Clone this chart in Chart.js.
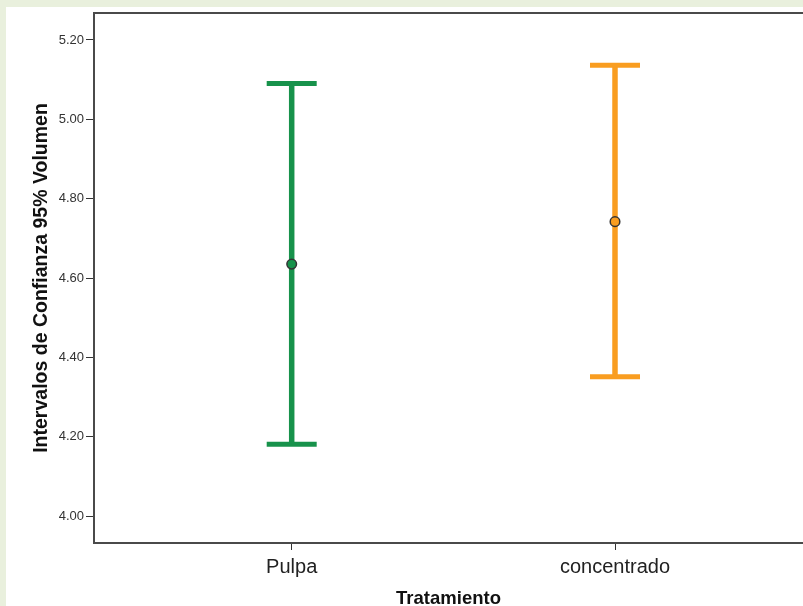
<!DOCTYPE html>
<html>
<head>
<meta charset="utf-8">
<script src="https://cdn.jsdelivr.net/npm/chart.js@4"></script>
<style>
  html, body { margin: 0; padding: 0; background: #e9f0dd; }
  #wrap { position: relative; width: 803px; height: 606px; }
  canvas { display: block; }
</style>
</head>
<body>
<div id="wrap"><canvas id="chart" width="803" height="606"></canvas></div>
<script>
// Treatment groups and their 95% confidence intervals for Volumen
const categories = ['Pulpa', 'concentrado'];
const meanValues = [4.635, 4.742];
const lowerValues = [4.181, 4.351];
const upperValues = [5.090, 5.136];
const groupColors = ['#17924b', '#f99d20'];
const yTickValues = [4.00, 4.20, 4.40, 4.60, 4.80, 5.00, 5.20];

const FONT = "'Liberation Sans', Arial, sans-serif";

const datasets = [];
categories.forEach((name, i) => {
  const x = i + 1;
  // vertical whisker of the interval
  datasets.push({
    type: 'scatter',
    label: name + ' IC',
    data: [{ x: x, y: lowerValues[i] }, { x: x, y: upperValues[i] }],
    showLine: true,
    borderColor: groupColors[i],
    borderWidth: 5.5,
    borderCapStyle: 'butt',
    pointRadius: 0,
    order: 2
  });
  // horizontal caps at both ends
  datasets.push({
    type: 'scatter',
    label: name + ' límites',
    data: [{ x: x, y: lowerValues[i] }, { x: x, y: upperValues[i] }],
    pointStyle: 'line',
    pointRadius: 25,
    pointBorderWidth: 5,
    pointBorderColor: groupColors[i],
    borderColor: groupColors[i],
    order: 1
  });
  // mean marker
  datasets.push({
    type: 'scatter',
    label: name + ' media',
    data: [{ x: x, y: meanValues[i] }],
    pointStyle: 'circle',
    pointRadius: 4.8,
    pointBackgroundColor: groupColors[i],
    pointBorderColor: '#333333',
    pointBorderWidth: 1.5,
    order: 0
  });
});

// page background: light green margin with a white panel
const panelBackground = {
  id: 'panelBackground',
  beforeDraw(chart) {
    const ctx = chart.ctx;
    ctx.save();
    ctx.fillStyle = '#e9f0dd';
    ctx.fillRect(0, 0, chart.width, chart.height);
    ctx.fillStyle = '#ffffff';
    ctx.fillRect(6, 7, chart.width - 6, chart.height - 7);
    ctx.restore();
  }
};

// top edge of the plot frame
const topFrame = {
  id: 'topFrame',
  afterDraw(chart) {
    const { ctx, chartArea } = chart;
    ctx.save();
    ctx.strokeStyle = '#4a4a4a';
    ctx.lineWidth = 2;
    ctx.beginPath();
    ctx.moveTo(chartArea.left - 1, chartArea.top);
    ctx.lineTo(chartArea.right, chartArea.top);
    ctx.stroke();
    ctx.restore();
  }
};

function noScalePadding(scale) {
  scale.paddingTop = 0;
  scale.paddingBottom = 0;
  scale.paddingLeft = 0;
  scale.paddingRight = 0;
}

new Chart(document.getElementById('chart'), {
  type: 'scatter',
  data: { datasets },
  plugins: [panelBackground, topFrame],
  options: {
    responsive: false,
    animation: false,
    layout: { autoPadding: false, padding: { top: 13, right: 0, left: 0, bottom: 0 } },
    plugins: {
      legend: { display: false },
      tooltip: { enabled: false }
    },
    scales: {
      x: {
        type: 'linear',
        position: 'bottom',
        min: 0.3885,
        max: 2.5815,
        afterBuildTicks(scale) {
          scale.ticks = categories.map((c, i) => ({ value: i + 1 }));
        },
        afterFit(scale) { scale.height = 63; noScalePadding(scale); },
        ticks: {
          callback: (v) => categories[Math.round(v) - 1] || '',
          color: '#222222',
          font: { family: FONT, size: 20 },
          padding: 5,
          maxRotation: 0,
          autoSkip: false
        },
        grid: {
          drawOnChartArea: false,
          drawTicks: true,
          tickLength: 7,
          color: '#333333',
          lineWidth: 1
        },
        border: { display: true, color: '#4a4a4a', width: 2 },
        title: {
          display: true,
          text: 'Tratamiento',
          color: '#111111',
          font: { family: FONT, size: 18.5, weight: 'bold', lineHeight: 1 },
          padding: { top: 0, bottom: -2 }
        }
      },
      y: {
        type: 'linear',
        position: 'left',
        min: 3.932,
        max: 5.268,
        afterBuildTicks(scale) {
          scale.ticks = yTickValues.map(v => ({ value: v }));
        },
        afterFit(scale) { scale.width = 94; noScalePadding(scale); },
        ticks: {
          callback: (v) => Number(v).toFixed(2),
          color: '#333333',
          font: { family: FONT, size: 13 },
          padding: 2
        },
        grid: {
          drawOnChartArea: false,
          drawTicks: true,
          tickLength: 8,
          color: '#333333',
          lineWidth: 1
        },
        border: { display: true, color: '#4a4a4a', width: 2 },
        title: {
          display: true,
          text: 'Intervalos de Confianza 95% Volumen',
          color: '#111111',
          font: { family: FONT, size: 19.5, weight: 'bold', lineHeight: 1.2 },
          padding: { top: 30.3, bottom: 0 }
        }
      }
    }
  }
});
</script>
</body>
</html>
